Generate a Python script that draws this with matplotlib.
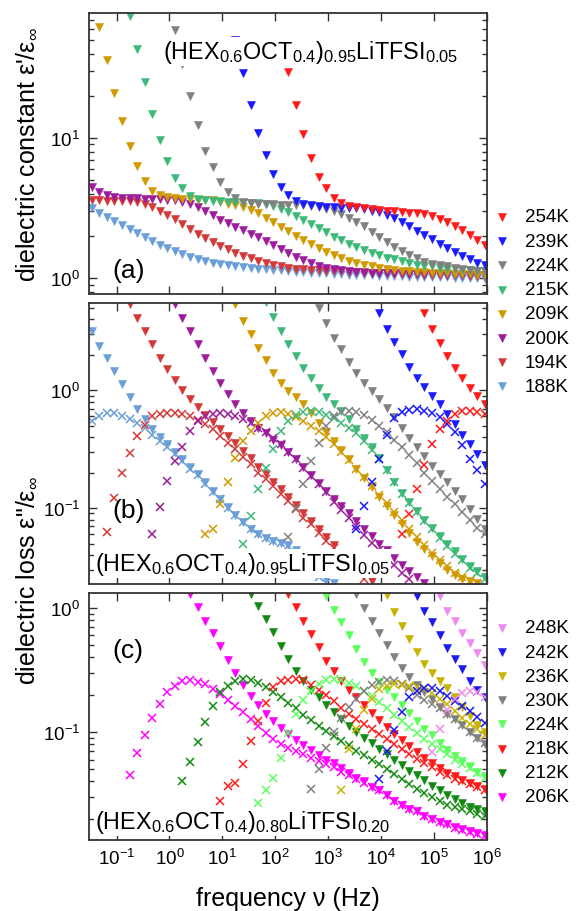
import matplotlib
matplotlib.use('Agg')
import matplotlib.pyplot as plt
from matplotlib.lines import Line2D
from matplotlib.ticker import FixedLocator, NullLocator, NullFormatter, LogFormatterSciNotation

# measurement grid (Hz), 7 points per decade
FREQ = [0.034, 0.0472, 0.0657, 0.0912, 0.127, 0.176, 0.245,
        0.34, 0.472, 0.657, 0.912, 1.27, 1.76, 2.45,
        3.4, 4.72, 6.57, 9.12, 12.7, 17.6, 24.5,
        34, 47.2, 65.7, 91.2, 127, 176, 245,
        340, 472, 657, 912, 1270, 1760, 2450,
        3400, 4720, 6570, 9120, 1.27e4, 1.76e4, 2.45e4,
        3.4e4, 4.72e4, 6.57e4, 9.12e4, 1.27e5, 1.76e5, 2.45e5,
        3.4e5, 4.72e5, 6.57e5, 9.12e5]

X_TICKS = [1e-1, 1e0, 1e1, 1e2, 1e3, 1e4, 1e5, 1e6]

TEMPS_1 = ['254K', '239K', '224K', '215K', '209K', '200K', '194K', '188K']
TEMPS_2 = ['248K', '242K', '236K', '230K', '224K', '218K', '212K', '206K']

COLORS_1 = {'254K': '#ff1a1a', '239K': '#1a1aff', '224K': '#808080', '215K': '#3cb878',
            '209K': '#d09a00', '200K': '#9c1c9c', '194K': '#d23a3a', '188K': '#6a9ed8'}
COLORS_2 = {'248K': '#ee8cee', '242K': '#1a1aee', '236K': '#c8b400', '230K': '#808080',
            '224K': '#5cff5c', '218K': '#ff1a1a', '212K': '#128a12', '206K': '#ff00ff'}

# each entry: (index of first point in FREQ, values)
EPS1_A = {
    '254K': (25, [47, 29.6, 17.2, 10.7, 7.2, 5.3, 4.4, 3.72, 3.43, 3.27, 3.2, 3.15, 3.1, 3.06,
                  3.02, 2.99, 2.96, 2.93, 2.9, 2.86, 2.76, 2.64, 2.5, 2.35, 2.19, 2.03, 1.88, 1.72]),
    '239K': (19, [50, 29, 17.3, 10.8, 7.5, 5.5, 4.45, 3.9, 3.55, 3.4, 3.3, 3.25, 3.22, 3.2, 3.19,
                  3.18, 3.16, 3.1, 3.02, 2.95, 2.82, 2.68, 2.52, 2.35, 2.18, 2.03, 1.9, 1.76, 1.64,
                  1.53, 1.43, 1.36, 1.29, 1.24]),
    '224K': (11, [59, 34, 20, 12.4, 8.1, 6.2, 4.83, 4.09, 3.7, 3.5, 3.43, 3.4, 3.38, 3.36, 3.35,
                  3.34, 3.32, 3.3, 3.28, 3.2, 3.12, 3.03, 2.88, 2.7, 2.52, 2.34, 2.15, 1.97, 1.8,
                  1.66, 1.55, 1.46, 1.38, 1.31, 1.27, 1.24, 1.21, 1.18, 1.16, 1.14, 1.13, 1.12]),
    '215K': (5, [74, 43, 25, 14.8, 9.7, 6.9, 5.2, 4.4, 3.87, 3.67, 3.6, 3.56, 3.53, 3.5, 3.48,
                 3.46, 3.44, 3.42, 3.4, 3.28, 3.1, 2.94, 2.78, 2.6, 2.44, 2.28, 2.13, 1.98, 1.86,
                 1.76, 1.67, 1.59, 1.52, 1.46, 1.4, 1.36, 1.32, 1.28, 1.25, 1.23, 1.21, 1.19, 1.17,
                 1.16, 1.15, 1.14, 1.13, 1.12]),
    '209K': (1, [62, 36, 21, 13.3, 8.8, 6.3, 4.9, 4.2, 3.95, 3.8, 3.72, 3.68, 3.65, 3.62, 3.6,
                 3.58, 3.5, 3.4, 3.3, 3.22, 3.05, 2.9, 2.68, 2.5, 2.33, 2.17, 2.0, 1.87, 1.74, 1.63,
                 1.53, 1.45, 1.38, 1.33, 1.28, 1.24, 1.21, 1.18, 1.16, 1.14, 1.13, 1.12, 1.11, 1.1,
                 1.09, 1.085, 1.08, 1.075, 1.07, 1.065, 1.06, 1.06]),
    '200K': (0, [4.45, 4.1, 3.9, 3.8, 3.75, 3.72, 3.7, 3.68, 3.66, 3.64, 3.62, 3.58, 3.5, 3.38,
                 3.2, 3.0, 2.8, 2.6, 2.46, 2.33, 2.2, 2.07, 1.95, 1.83, 1.71, 1.6, 1.5, 1.41, 1.34,
                 1.28, 1.23, 1.19, 1.16, 1.14, 1.12, 1.11, 1.1, 1.095, 1.09, 1.085, 1.08, 1.08,
                 1.075, 1.07, 1.07, 1.065, 1.065, 1.06, 1.06, 1.055, 1.055, 1.05, 1.05]),
    '194K': (0, [3.6, 3.58, 3.57, 3.56, 3.55, 3.54, 3.5, 3.4, 3.22, 3.02, 2.82, 2.62, 2.44, 2.25,
                 2.08, 1.93, 1.8, 1.7, 1.6, 1.51, 1.44, 1.38, 1.32, 1.28, 1.25, 1.22, 1.19, 1.17,
                 1.16, 1.15, 1.14, 1.13, 1.12, 1.115, 1.11, 1.1, 1.095, 1.09, 1.085, 1.08, 1.075,
                 1.07, 1.07, 1.065, 1.06, 1.06, 1.055, 1.05, 1.05, 1.045, 1.04, 1.04, 1.035]),
    '188K': (0, [3.15, 2.9, 2.74, 2.57, 2.4, 2.24, 2.09, 1.95, 1.84, 1.73, 1.64, 1.55, 1.48, 1.41,
                 1.36, 1.32, 1.29, 1.26, 1.24, 1.22, 1.2, 1.19, 1.17, 1.16, 1.15, 1.135, 1.12,
                 1.11, 1.1, 1.09, 1.085, 1.08, 1.07, 1.065, 1.06, 1.055, 1.05, 1.045, 1.04, 1.035,
                 1.03, 1.03, 1.025, 1.02, 1.02, 1.015, 1.01, 1.01, 1.005, 1.0, 1.0, 0.995, 0.99]),
}

LOSS_B = {
    '254K': (44, [4.55, 3.29, 2.53, 1.95, 1.53, 1.28, 1.05, 0.895, 0.76]),
    '239K': (38, [4.55, 3.33, 2.56, 2.02, 1.59, 1.28, 1.07, 0.895, 0.76, 0.626, 0.515, 0.42,
                  0.35, 0.29, 0.23]),
    '224K': (30, [5.0, 3.74, 2.79, 2.23, 1.74, 1.41, 1.16, 0.987, 0.84, 0.71, 0.59, 0.48, 0.397,
                  0.327, 0.277, 0.228, 0.194, 0.165, 0.14, 0.12, 0.098, 0.081, 0.066]),
    '215K': (23, [5.6, 4.2, 3.2, 2.45, 1.95, 1.55, 1.28, 1.05, 0.88, 0.76, 0.67, 0.57, 0.47, 0.39,
                  0.33, 0.265, 0.21, 0.168, 0.135, 0.113, 0.095, 0.08, 0.068, 0.058, 0.05, 0.043,
                  0.037, 0.032, 0.029, 0.026]),
    '209K': (19, [5.36, 3.86, 2.98, 2.3, 1.8, 1.41, 1.16, 0.99, 0.87, 0.76, 0.64, 0.53, 0.44, 0.37,
                  0.31, 0.26, 0.215, 0.18, 0.15, 0.125, 0.105, 0.088, 0.074, 0.062, 0.052, 0.045,
                  0.039, 0.034, 0.03, 0.027, 0.025, 0.024, 0.023]),
    '200K': (11, [5.4, 4.13, 3.18, 2.45, 1.89, 1.46, 1.15, 0.93, 0.77, 0.64, 0.55, 0.48, 0.43,
                  0.38, 0.34, 0.3, 0.26, 0.225, 0.192, 0.163, 0.14, 0.12, 0.104, 0.09, 0.078,
                  0.067, 0.058, 0.05, 0.044, 0.038, 0.033, 0.029, 0.026, 0.023]),
    '194K': (5, [5.36, 4.13, 3.18, 2.45, 1.89, 1.51, 1.22, 1.0, 0.84, 0.72, 0.62, 0.54, 0.47, 0.41,
                 0.355, 0.305, 0.265, 0.225, 0.195, 0.168, 0.145, 0.125, 0.106, 0.09, 0.078, 0.066,
                 0.057, 0.049, 0.042, 0.036, 0.031, 0.027, 0.024]),
    '188K': (0, [3.18, 2.37, 1.87, 1.46, 1.12, 0.88, 0.7, 0.57, 0.47, 0.4, 0.35, 0.3, 0.26, 0.225,
                 0.195, 0.165, 0.14, 0.12, 0.103, 0.088, 0.076, 0.067, 0.06, 0.056, 0.053, 0.051,
                 0.049, 0.044, 0.038, 0.032, 0.028, 0.025, 0.023]),
}

DERIV_B = {
    '254K': (41, [0.06, 0.089, 0.145, 0.23, 0.35, 0.467, 0.55, 0.63, 0.67, 0.67, 0.65, 0.63]),
    '239K': (35, [0.066, 0.105, 0.165, 0.26, 0.42, 0.58, 0.65, 0.68, 0.69, 0.67, 0.64, 0.59, 0.52,
                  0.44, 0.34, 0.26, 0.21, 0.16]),
    '224K': (26, [0.057, 0.1, 0.16, 0.25, 0.36, 0.5, 0.6, 0.65, 0.67, 0.66, 0.62, 0.56, 0.5, 0.44,
                  0.38, 0.33, 0.28, 0.24, 0.2, 0.17, 0.145, 0.125, 0.108, 0.093, 0.08, 0.068,
                  0.06]),
    '215K': (20, [0.05, 0.086, 0.145, 0.22, 0.316, 0.45, 0.55, 0.62, 0.66, 0.67, 0.65, 0.62, 0.58,
                  0.53, 0.48, 0.43, 0.37, 0.31, 0.26, 0.21, 0.165, 0.133, 0.11, 0.093, 0.078,
                  0.066, 0.056, 0.048, 0.041, 0.036, 0.031, 0.028, 0.025]),
    '209K': (15, [0.06, 0.066, 0.108, 0.167, 0.264, 0.372, 0.45, 0.53, 0.6, 0.64, 0.65, 0.63,
                  0.59, 0.55, 0.5, 0.45, 0.4, 0.35, 0.3, 0.255, 0.215, 0.185, 0.155, 0.13, 0.11,
                  0.093, 0.079, 0.067, 0.057, 0.049, 0.042, 0.036, 0.032, 0.028, 0.026, 0.024,
                  0.023]),
    '200K': (8, [0.06, 0.103, 0.17, 0.25, 0.33, 0.45, 0.55, 0.6, 0.63, 0.64, 0.63, 0.61, 0.57,
                 0.53, 0.48, 0.44, 0.39, 0.35, 0.3, 0.26, 0.22, 0.188, 0.16, 0.136, 0.113, 0.096,
                 0.082, 0.07, 0.059, 0.051, 0.044, 0.038, 0.033, 0.028, 0.025]),
    '194K': (2, [0.063, 0.123, 0.2, 0.296, 0.41, 0.505, 0.6, 0.63, 0.64, 0.64, 0.63, 0.6, 0.56,
                 0.515, 0.467, 0.41, 0.36, 0.316, 0.27, 0.236, 0.2, 0.176, 0.153, 0.132, 0.115,
                 0.098, 0.083, 0.073, 0.062, 0.053, 0.046, 0.04, 0.034, 0.029, 0.025]),
    '188K': (0, [0.55, 0.6, 0.64, 0.64, 0.61, 0.57, 0.53, 0.48, 0.42, 0.37, 0.33, 0.29, 0.25,
                 0.215, 0.19, 0.16, 0.137, 0.12, 0.1, 0.087, 0.076, 0.066, 0.06, 0.056, 0.053,
                 0.051, 0.048, 0.042, 0.036, 0.03, 0.026, 0.023]),
}

LOSS_C = {
    '248K': (46, [1.26, 0.95, 0.78, 0.63, 0.52, 0.43, 0.35]),
    '242K': (43, [1.26, 0.95, 0.77, 0.6, 0.48, 0.39, 0.32, 0.26, 0.22, 0.19]),
    '236K': (39, [1.28, 0.93, 0.71, 0.56, 0.44, 0.355, 0.3, 0.26, 0.225, 0.19, 0.16, 0.135,
                  0.115, 0.1]),
    '230K': (35, [1.3, 1.0, 0.79, 0.63, 0.5, 0.4, 0.33, 0.28, 0.24, 0.21, 0.185, 0.16, 0.14,
                  0.128, 0.114, 0.1, 0.089, 0.08]),
    '224K': (31, [1.26, 0.97, 0.77, 0.6, 0.467, 0.365, 0.3, 0.255, 0.22, 0.19, 0.165, 0.142,
                  0.122, 0.106, 0.094, 0.082, 0.072, 0.064, 0.058, 0.053, 0.048, 0.044]),
    '218K': (26, [1.3, 1.01, 0.79, 0.617, 0.482, 0.376, 0.312, 0.26, 0.22, 0.19, 0.165, 0.143,
                  0.125, 0.11, 0.097, 0.086, 0.077, 0.069, 0.062, 0.056, 0.051, 0.047, 0.044,
                  0.041, 0.039, 0.037, 0.035]),
    '212K': (21, [1.3, 1.04, 0.815, 0.636, 0.497, 0.388, 0.312, 0.26, 0.22, 0.19, 0.165, 0.145,
                  0.127, 0.112, 0.1, 0.09, 0.081, 0.073, 0.066, 0.06, 0.054, 0.049, 0.045, 0.041,
                  0.037, 0.034, 0.031, 0.029, 0.027, 0.025, 0.024, 0.023]),
    '206K': (13, [1.3, 1.01, 0.79, 0.63, 0.49, 0.38, 0.3, 0.24, 0.196, 0.165, 0.14, 0.122, 0.108,
                  0.096, 0.087, 0.079, 0.072, 0.065, 0.06, 0.056, 0.051, 0.047, 0.043, 0.04,
                  0.036, 0.034, 0.031, 0.028, 0.026, 0.024, 0.023, 0.021, 0.02, 0.019, 0.018,
                  0.0172, 0.0165, 0.016, 0.0153, 0.0147]),
}

DERIV_C = {
    '248K': (45, [0.069, 0.106, 0.15, 0.185, 0.205, 0.215, 0.21, 0.19]),
    '242K': (38, [0.042, 0.071, 0.103, 0.144, 0.19, 0.215, 0.225, 0.226, 0.215, 0.195, 0.178,
                  0.163, 0.148, 0.132, 0.118]),
    '236K': (33, [0.034, 0.073, 0.106, 0.15, 0.185, 0.222, 0.235, 0.244, 0.24, 0.236, 0.23,
                  0.222, 0.205, 0.185, 0.168, 0.148, 0.13, 0.116, 0.105, 0.095]),
    '230K': (29, [0.035, 0.05, 0.075, 0.1, 0.13, 0.16, 0.185, 0.215, 0.24, 0.255, 0.262, 0.258,
                  0.245, 0.225, 0.2, 0.182, 0.168, 0.155, 0.14, 0.127, 0.114, 0.101, 0.09,
                  0.082]),
    '224K': (22, [0.027, 0.034, 0.043, 0.062, 0.099, 0.14, 0.18, 0.215, 0.245, 0.262, 0.268,
                  0.265, 0.25, 0.235, 0.215, 0.195, 0.175, 0.155, 0.138, 0.122, 0.11, 0.098,
                  0.088, 0.08, 0.073, 0.066, 0.06, 0.055, 0.051, 0.047, 0.043]),
    '218K': (17, [0.028, 0.037, 0.039, 0.055, 0.084, 0.123, 0.171, 0.23, 0.258, 0.265, 0.266,
                  0.262, 0.24, 0.22, 0.2, 0.178, 0.157, 0.14, 0.128, 0.117, 0.106, 0.096, 0.088,
                  0.08, 0.073, 0.067, 0.061, 0.056, 0.052, 0.048, 0.045, 0.042, 0.04, 0.038,
                  0.036, 0.034]),
    '212K': (12, [0.04, 0.057, 0.083, 0.12, 0.163, 0.209, 0.236, 0.26, 0.266, 0.262, 0.25, 0.23,
                  0.21, 0.19, 0.172, 0.155, 0.138, 0.124, 0.112, 0.102, 0.093, 0.085, 0.078,
                  0.071, 0.065, 0.06, 0.055, 0.05, 0.046, 0.042, 0.038, 0.035, 0.032, 0.03,
                  0.028, 0.026, 0.025, 0.024, 0.023, 0.022, 0.021]),
    '206K': (5, [0.045, 0.068, 0.094, 0.131, 0.168, 0.209, 0.236, 0.26, 0.264, 0.255, 0.244,
                 0.222, 0.203, 0.182, 0.163, 0.144, 0.127, 0.111, 0.099, 0.088, 0.08, 0.075, 0.07,
                 0.066, 0.062, 0.058, 0.055, 0.052, 0.048, 0.045, 0.042, 0.039, 0.036, 0.034,
                 0.031, 0.028, 0.026, 0.024, 0.023, 0.021, 0.02, 0.019, 0.018, 0.017, 0.0163,
                 0.0157, 0.015, 0.0145]),
}

plt.rcParams.update({
    'font.family': ['Liberation Sans', 'DejaVu Sans'],
    'mathtext.fontset': 'custom',
    'mathtext.rm': 'Liberation Sans',
    'mathtext.it': 'Liberation Sans:italic',
    'mathtext.bf': 'Liberation Sans:bold',
})

W, H = 576.0, 912.0
fig = plt.figure(figsize=(W / 100, H / 100), dpi=100)


def add_axes_px(left, top, right, bottom):
    return fig.add_axes([left / W, 1 - bottom / H, (right - left) / W, (bottom - top) / H])


ax_a = add_axes_px(88.5, 14, 487, 295)
ax_b = add_axes_px(88.5, 304, 487, 585)
ax_c = add_axes_px(88.5, 594, 487, 841)

SPINE = '#333333'


def plot_series(ax, data, temps, colors, marker):
    for t in temps[::-1]:
        start, vals = data[t]
        f = FREQ[start:start + len(vals)]
        if marker == 'v':
            ax.plot(f, vals, ls='none', marker='v', ms=6.3, color=colors[t], mec=colors[t], mew=0.4)
        else:
            ax.plot(f, vals, ls='none', marker='x', ms=6, color=colors[t], mew=1.1)


plot_series(ax_a, EPS1_A, TEMPS_1, COLORS_1, 'v')
plot_series(ax_b, LOSS_B, TEMPS_1, COLORS_1, 'v')
plot_series(ax_b, DERIV_B, TEMPS_1, COLORS_1, 'x')
plot_series(ax_c, LOSS_C, TEMPS_2, COLORS_2, 'v')
plot_series(ax_c, DERIV_C, TEMPS_2, COLORS_2, 'x')

# (axes, y limits, labelled decades)
Y_SETUP = [(ax_a, (0.77, 78), [1, 10]),
           (ax_b, (0.0227, 5.5), [0.1, 1]),
           (ax_c, (0.0135, 1.32), [0.1, 1])]

for ax, ylim, yt in Y_SETUP:
    ax.set_xscale('log')
    ax.set_yscale('log')
    ax.set_xlim(10 ** -1.53, 1e6)
    ax.set_ylim(*ylim)
    ax.xaxis.set_major_locator(FixedLocator(X_TICKS))
    ax.xaxis.set_major_formatter(LogFormatterSciNotation())
    ax.xaxis.set_minor_locator(NullLocator())
    minors = [m * d for d in (0.01, 0.1, 1, 10) for m in range(2, 10)
              if ylim[0] <= m * d <= ylim[1]]
    ax.yaxis.set_major_locator(FixedLocator(yt))
    ax.yaxis.set_major_formatter(LogFormatterSciNotation())
    ax.yaxis.set_minor_locator(FixedLocator(minors))
    ax.yaxis.set_minor_formatter(NullFormatter())
    ax.tick_params(which='both', direction='in', top=True, right=True, color=SPINE, width=1)
    ax.tick_params(which='major', length=6, labelsize=13.5, pad=6)
    ax.tick_params(which='minor', length=3.5)
    for s in ax.spines.values():
        s.set_linewidth(1.3)
        s.set_color(SPINE)

ax_a.tick_params(labelbottom=False)
ax_b.tick_params(labelbottom=False)

comp1 = r'$\mathrm{(HEX_{0.6}OCT_{0.4})_{0.95}LiTFSI_{0.05}}$'
comp2 = r'$\mathrm{(HEX_{0.6}OCT_{0.4})_{0.80}LiTFSI_{0.20}}$'
box = dict(facecolor='white', edgecolor='none', pad=0.5)
ax_a.text(0.187, 0.84, comp1, transform=ax_a.transAxes, fontsize=16.8, va='baseline', bbox=box, zorder=5)
ax_b.text(0.016, 0.05, comp1, transform=ax_b.transAxes, fontsize=16.8, va='baseline', bbox=box, zorder=5)
ax_c.text(0.016, 0.049, comp2, transform=ax_c.transAxes, fontsize=16.8, va='baseline', bbox=box, zorder=5)

ax_a.text(0.059, 0.06, '(a)', transform=ax_a.transAxes, fontsize=19, va='baseline')
ax_b.text(0.059, 0.238, '(b)', transform=ax_b.transAxes, fontsize=19, va='baseline')
ax_c.text(0.059, 0.741, '(c)', transform=ax_c.transAxes, fontsize=19, va='baseline')

fig.text(27 / W, 1 - 154 / H, "dielectric constant ε'/ε$_{\\infty}$", rotation=90,
         ha='center', va='center', fontsize=18)
fig.text(27 / W, 1 - 580 / H, 'dielectric loss ε"/ε$_{\\infty}$', rotation=90,
         ha='center', va='center', fontsize=18)
fig.text(287.75 / W, 1 - 906 / H, 'frequency ν (Hz)', ha='center', va='baseline', fontsize=18)


def legend_px(temps, colors, y0, pitch):
    for i, t in enumerate(temps):
        y = 1 - (y0 + i * pitch) / H
        fig.add_artist(Line2D([502 / W], [y], transform=fig.transFigure, ls='none', marker='v',
                              ms=6.3, color=colors[t], mec=colors[t], mew=0.4))
        fig.text(525 / W, y, t, ha='left', va='center', fontsize=13.5)


legend_px(TEMPS_1, COLORS_1, 218, 24.2)
legend_px(TEMPS_2, COLORS_2, 629, 24.1)

fig.savefig('out.png', dpi=100)
